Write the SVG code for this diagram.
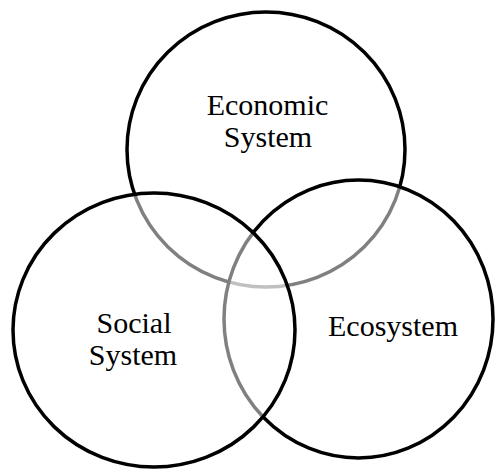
<svg xmlns="http://www.w3.org/2000/svg" width="495" height="470" viewBox="0 0 495 470">
<style>
.c{fill:#fff;fill-opacity:0.5;stroke:#000;stroke-width:3.5}
.t{font-family:"Liberation Serif","Times New Roman",serif;font-size:30px;fill:#000;text-anchor:middle}
</style>
<rect width="495" height="470" fill="#fff"/>
<g id="economic">
<ellipse class="c" cx="266" cy="149.5" rx="139" ry="137.5"/>
<text class="t" x="267.5" y="115">Economic</text>
<text class="t" x="268" y="147">System</text>
</g>
<g id="ecosystem">
<ellipse class="c" cx="358.5" cy="319" rx="134.5" ry="139"/>
<text class="t" x="393" y="336">Ecosystem</text>
</g>
<g id="social">
<ellipse class="c" cx="154" cy="330" rx="141" ry="137"/>
<text class="t" x="134" y="333">Social</text>
<text class="t" x="133" y="365">System</text>
</g>
<g id="connectors"></g>
</svg>
